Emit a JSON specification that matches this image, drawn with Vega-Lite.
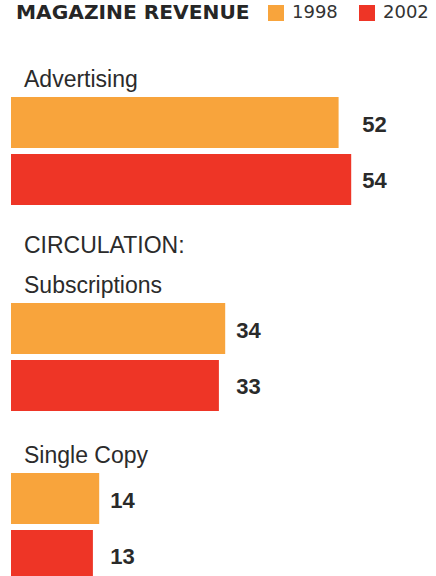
{
  "$schema": "https://vega.github.io/schema/vega-lite/v6.json",
  "padding": {"left": 11, "top": 4, "right": 0, "bottom": 0},
  "bounds": "flush",
  "spacing": 98,
  "data": {"values": [
    {"group": "Advertising", "year": "1998", "value": 52},
    {"group": "Advertising", "year": "2002", "value": 54},
    {"group": "Subscriptions", "year": "1998", "value": 34},
    {"group": "Subscriptions", "year": "2002", "value": 33},
    {"group": "Single Copy", "year": "1998", "value": 14},
    {"group": "Single Copy", "year": "2002", "value": 13}
  ]},
  "vconcat": [
    {
      "title": {"text": "Advertising"},
      "width": 378, "height": 108,
      "transform": [
        {"filter": "datum.group === 'Advertising'"},
        {"joinaggregate": [{"op": "max", "field": "value", "as": "gmax"}]}
      ],
      "encoding": {"y": {"field": "year", "type": "nominal", "axis": null, "scale": {"paddingInner": 0.105, "paddingOuter": 0}}},
      "layer": [
        {"mark": {"type": "bar"},
         "encoding": {
           "x": {"field": "value", "type": "quantitative", "axis": null, "scale": {"domain": [0, 60], "nice": false}},
           "color": {"field": "year", "type": "nominal", "scale": {"domain": ["1998", "2002"], "range": ["#F8A43C", "#EE3526"]},
             "legend": {"orient": "none", "legendX": 5, "legendY": -93, "direction": "horizontal", "title": "MAGAZINE REVENUE", "titleOrient": "left", "titleLimit": 400, "titleFont": "DejaVu Sans", "titleFontSize": 20.2, "titleFontWeight": "bold", "titleColor": "#262626", "titlePadding": 17, "titleBaseline": "middle", "symbolType": "square", "symbolSize": 256, "symbolStrokeWidth": 0, "symbolOpacity": 1, "labelFont": "DejaVu Sans", "labelFontSize": 18, "labelColor": "#333333", "labelOffset": 7, "columnPadding": 20, "padding": 0}}
         }},
        {"mark": {"type": "text", "align": "left", "baseline": "middle", "dx": 11, "dy": 2, "font": "Liberation Sans", "fontSize": 22, "fontWeight": "bold", "color": "#2a2a2a"},
         "encoding": {
           "x": {"field": "gmax", "type": "quantitative", "axis": null, "scale": {"domain": [0, 60], "nice": false}},
           "text": {"field": "value", "type": "quantitative"}
         }}
      ]
    },
    {
      "bounds": "flush",
      "spacing": 62,
      "vconcat": [
        {
          "title": {"text": ["CIRCULATION:", "Subscriptions"], "lineHeight": 40},
          "width": 378, "height": 108,
          "transform": [
            {"filter": "datum.group === 'Subscriptions'"},
            {"joinaggregate": [{"op": "max", "field": "value", "as": "gmax"}]}
          ],
          "encoding": {"y": {"field": "year", "type": "nominal", "axis": null, "scale": {"paddingInner": 0.105, "paddingOuter": 0}}},
          "layer": [
            {"mark": {"type": "bar"},
             "encoding": {
               "x": {"field": "value", "type": "quantitative", "axis": null, "scale": {"domain": [0, 60], "nice": false}},
               "color": {"field": "year", "type": "nominal", "scale": {"domain": ["1998", "2002"], "range": ["#F8A43C", "#EE3526"]}}
             }},
            {"mark": {"type": "text", "align": "left", "baseline": "middle", "dx": 11, "dy": 2, "font": "Liberation Sans", "fontSize": 22, "fontWeight": "bold", "color": "#2a2a2a"},
             "encoding": {
               "x": {"field": "gmax", "type": "quantitative", "axis": null, "scale": {"domain": [0, 60], "nice": false}},
               "text": {"field": "value", "type": "quantitative"}
             }}
          ]
        },
        {
          "title": {"text": "Single Copy"},
          "width": 378, "height": 108,
          "transform": [
            {"filter": "datum.group === 'Single Copy'"},
            {"joinaggregate": [{"op": "max", "field": "value", "as": "gmax"}]}
          ],
          "encoding": {"y": {"field": "year", "type": "nominal", "axis": null, "scale": {"paddingInner": 0.105, "paddingOuter": 0}}},
          "layer": [
            {"mark": {"type": "bar"},
             "encoding": {
               "x": {"field": "value", "type": "quantitative", "axis": null, "scale": {"domain": [0, 60], "nice": false}},
               "color": {"field": "year", "type": "nominal", "scale": {"domain": ["1998", "2002"], "range": ["#F8A43C", "#EE3526"]}}
             }},
            {"mark": {"type": "text", "align": "left", "baseline": "middle", "dx": 11, "dy": 2, "font": "Liberation Sans", "fontSize": 22, "fontWeight": "bold", "color": "#2a2a2a"},
             "encoding": {
               "x": {"field": "gmax", "type": "quantitative", "axis": null, "scale": {"domain": [0, 60], "nice": false}},
               "text": {"field": "value", "type": "quantitative"}
             }}
          ]
        }
      ]
    }
  ],
  "config": {
    "view": {"stroke": null},
    "background": "#ffffff",
    "title": {"anchor": "start", "frame": "group", "font": "Liberation Sans", "fontSize": 23, "fontWeight": "normal", "color": "#2b2b2b", "baseline": "alphabetic", "offset": 5, "dx": 13}
  }
}
